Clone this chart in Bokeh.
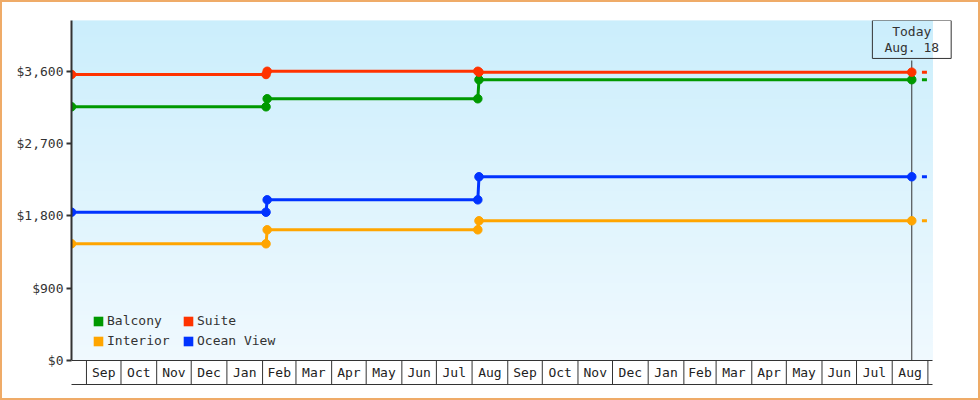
from datetime import timedelta
import numpy as np
import pandas as pd
from bokeh.plotting import figure
from bokeh.models import (Range1d, FixedTicker, NumeralTickFormatter, Label,
                          Legend, LegendItem)
from bokeh.core.properties import value
from bokeh.embed import file_html
from bokeh.resources import INLINE

FONT = "DejaVu Sans Mono"

# ---- data ----
DATES = ["2023-08-19", "2024-02-04", "2024-02-05", "2024-08-06", "2024-08-07", "2025-08-18"]
BALCONY = [3158, 3158, 3258, 3258, 3495, 3495]
SUITE = [3560, 3560, 3600, 3600, 3589, 3589]
INTERIOR = [1453, 1453, 1627, 1627, 1739, 1739]
OCEAN_VIEW = [1846, 1846, 2000, 2000, 2287, 2287]
SERIES_NAMES = ["Balcony", "Suite", "Interior", "Ocean View"]
SERIES_COLORS = ["#009900", "#FF3300", "#FFA500", "#0033FF"]
Y_TICKS = [0, 900, 1800, 2700, 3600]
MONTH_LABELS = ["Sep", "Oct", "Nov", "Dec", "Jan", "Feb", "Mar", "Apr", "May", "Jun", "Jul", "Aug",
                "Sep", "Oct", "Nov", "Dec", "Jan", "Feb", "Mar", "Apr", "May", "Jun", "Jul", "Aug"]
FIRST_MONTH = "2023-09-01"
TODAY = "2025-08-18"
TODAY_TEXT = "Today\nAug. 18"
X_START = "2023-08-19"
X_END = "2025-09-05"
Y_TOP = 4232

# ---- geometry (pixels) ----
FIG_W, FIG_H = 980, 400
B_LEFT, B_RIGHT, B_TOP, B_BOTTOM = 69, 22, 18, 18
PLOT_PX = 340          # height of the price area
STRIP_PX = 24          # height of the month strip
AREA_PX = 861          # width of the dated area (X_START..X_END)
EXTRA_PX = 28          # blank room right of the dated area (for the Today box)

U_PER_PX = Y_TOP / PLOT_PX
STRIP = STRIP_PX * U_PER_PX
BOX_BOTTOM = Y_TOP - 40 * U_PER_PX

x_start = pd.Timestamp(X_START)
x_end = pd.Timestamp(X_END)
x_view_end = x_end + (x_end - x_start) * (EXTRA_PX / AREA_PX)

dates = pd.to_datetime(DATES)
today = pd.Timestamp(TODAY)

p = figure(width=FIG_W, height=FIG_H, output_backend="svg", toolbar_location=None,
           x_axis_type="datetime",
           x_range=Range1d(x_start, x_view_end),
           y_range=Range1d(-STRIP, Y_TOP),
           min_border_left=B_LEFT, min_border_right=B_RIGHT,
           min_border_top=B_TOP, min_border_bottom=B_BOTTOM)
p.styles = {"border": "2px solid #EFAB68"}
p.background_fill_color = "white"
p.border_fill_color = "white"
p.outline_line_color = None
p.grid.visible = False

# gradient background of the price area
N = 170
edges = np.linspace(0, Y_TOP, N + 1)
bottom_rgb = np.array([240, 249, 254])
top_rgb = np.array([203, 238, 252])
cols = []
for i in range(N):
    t = (i + 0.5) / N
    c = (bottom_rgb + (top_rgb - bottom_rgb) * t).round().astype(int)
    cols.append("#%02x%02x%02x" % tuple(c))
p.quad(left=[x_start] * N, right=[x_end] * N,
       bottom=edges[:-1], top=edges[1:], fill_color=cols, line_color=cols, line_width=1)

# month strip
month_starts = pd.date_range(FIRST_MONTH, periods=len(MONTH_LABELS) + 1, freq="MS")
mids = [month_starts[i] + (month_starts[i + 1] - month_starts[i]) / 2 for i in range(len(MONTH_LABELS))]
p.segment(x0=list(month_starts), y0=[-STRIP] * len(month_starts),
          x1=list(month_starts), y1=[0] * len(month_starts),
          line_color="#333333", line_width=1)
p.segment(x0=[x_start], y0=[0], x1=[x_end], y1=[0], line_color="#333333", line_width=1)
p.text(x=mids, y=[-STRIP / 2] * len(mids), text=MONTH_LABELS,
       text_font=value(FONT), text_font_size="13px", text_color="#222222",
       text_align="center", text_baseline="middle")

# today marker
p.segment(x0=[today], y0=[0], x1=[today], y1=[BOX_BOTTOM], line_color="#333333", line_width=1)
p.add_layout(Label(x=today, y=Y_TOP, text=TODAY_TEXT, text_align="center", text_baseline="top",
                   text_font=FONT, text_font_size="13px", text_color="#333333",
                   text_line_height=1.13, border_line_color="#333333", border_line_width=1,
                   padding=(12, 12, 3, 3)))

# series
series = [BALCONY, SUITE, INTERIOR, OCEAN_VIEW]
legend_items = []
for name, vals, color in zip(SERIES_NAMES, series, SERIES_COLORS):
    p.line(x=dates, y=vals, line_color=color, line_width=3)
    p.scatter(x=dates, y=vals, size=8.5, fill_color=color, line_color=color, marker="circle")
    p.rect(x=[today + timedelta(days=11)], y=[vals[-1]], width=5, height=3,
           width_units="screen", height_units="screen", fill_color=color, line_color=None)
    swatch = p.rect(x=dates[:1], y=vals[:1], width=0, height=0,
                    fill_color=color, line_color=None)
    legend_items.append(LegendItem(label=name, renderers=[swatch]))

legend = Legend(items=legend_items, location=(21, 35), orientation="horizontal", ncols=2,
                padding=0, margin=0, spacing=3, glyph_width=12, glyph_height=12,
                label_standoff=3, label_width=72, label_height=17,
                label_text_font=FONT, label_text_font_size="13px", label_text_color="#333333",
                background_fill_alpha=0, border_line_color=None)
p.add_layout(legend)

# axes
p.xaxis.ticker = FixedTicker(ticks=[])
p.xaxis.bounds = (x_start, x_end)
p.xaxis.axis_line_color = "#333333"
p.xaxis.major_tick_out = 0
p.xaxis.major_tick_in = 0
p.xaxis.minor_tick_out = 0
p.xaxis.minor_tick_in = 0
p.xaxis.major_label_standoff = 0

p.yaxis.bounds = (0, Y_TOP)
p.yaxis.ticker = FixedTicker(ticks=Y_TICKS)
p.yaxis.formatter = NumeralTickFormatter(format="$0,0")
p.yaxis.axis_line_color = "#333333"
p.yaxis.axis_line_width = 2
p.yaxis.major_tick_line_color = "#333333"
p.yaxis.major_tick_line_width = 2
p.yaxis.major_tick_out = 5
p.yaxis.major_tick_in = 0
p.yaxis.minor_tick_line_color = None
p.yaxis.major_label_standoff = 3
p.yaxis.major_label_text_font = FONT
p.yaxis.major_label_text_font_size = "13px"
p.yaxis.major_label_text_color = "#333333"

open("out.html", "w").write(file_html(p, INLINE))
